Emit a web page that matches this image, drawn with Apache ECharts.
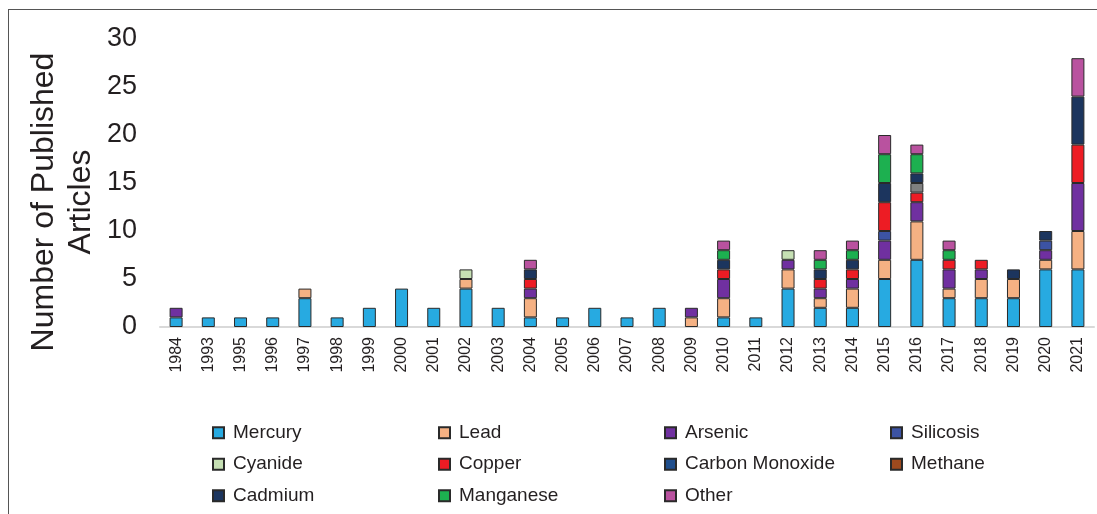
<!DOCTYPE html>
<html>
<head>
<meta charset="utf-8">
<script src="https://cdn.jsdelivr.net/npm/echarts@6/dist/echarts.min.js"></script>
<style>
html,body{margin:0;padding:0;background:#fff;}
#frame{position:absolute;left:8px;top:9px;width:1200px;height:600px;border-left:1.5px solid #555;border-top:1.5px solid #555;}
#chart{position:absolute;left:0;top:0;width:1097px;height:514px;}
</style>
</head>
<body>
<div id="frame"></div>
<div id="chart"></div>
<script>
const categories = ['1984','1993','1995','1996','1997','1998','1999','2000','2001','2002','2003','2004','2005','2006','2007','2008','2009','2010','2011','2012','2013','2014','2015','2016','2017','2018','2019','2020','2021'];
//                 84 93 95 96 97 98 99 00 01 02 03 04 05 06 07 08 09 10 11 12 13 14 15 16 17 18 19 20 21
const mercury   = [1, 1, 1, 1, 3, 1, 2, 4, 2, 4, 2, 1, 1, 2, 1, 2, 0, 1, 1, 4, 2, 2, 5, 7, 3, 3, 3, 6, 6];
const lead      = [0, 0, 0, 0, 1, 0, 0, 0, 0, 1, 0, 2, 0, 0, 0, 0, 1, 2, 0, 2, 1, 2, 2, 4, 1, 2, 2, 1, 4];
const arsenic   = [1, 0, 0, 0, 0, 0, 0, 0, 0, 0, 0, 1, 0, 0, 0, 0, 1, 2, 0, 1, 1, 1, 2, 2, 2, 1, 0, 1, 5];
const silicosis = [0, 0, 0, 0, 0, 0, 0, 0, 0, 0, 0, 0, 0, 0, 0, 0, 0, 0, 0, 0, 0, 0, 1, 0, 0, 0, 0, 1, 0];
const cyanide   = [0, 0, 0, 0, 0, 0, 0, 0, 0, 1, 0, 0, 0, 0, 0, 0, 0, 0, 0, 1, 0, 0, 0, 0, 0, 0, 0, 0, 0];
const copper    = [0, 0, 0, 0, 0, 0, 0, 0, 0, 0, 0, 1, 0, 0, 0, 0, 0, 1, 0, 0, 1, 1, 3, 1, 1, 1, 0, 0, 4];
const unlabeled = [0, 0, 0, 0, 0, 0, 0, 0, 0, 0, 0, 0, 0, 0, 0, 0, 0, 0, 0, 0, 0, 0, 0, 1, 0, 0, 0, 0, 0];
const carbonMonoxide = [0,0,0,0,0,0,0,0,0,0,0,0,0,0,0,0,0,0,0,0,0,0,0,0,0,0,0,0,0];
const methane   = [0, 0, 0, 0, 0, 0, 0, 0, 0, 0, 0, 0, 0, 0, 0, 0, 0, 0, 0, 0, 0, 0, 0, 0, 0, 0, 0, 0, 0];
const cadmium   = [0, 0, 0, 0, 0, 0, 0, 0, 0, 0, 0, 1, 0, 0, 0, 0, 0, 1, 0, 0, 1, 1, 2, 1, 0, 0, 1, 1, 5];
const manganese = [0, 0, 0, 0, 0, 0, 0, 0, 0, 0, 0, 0, 0, 0, 0, 0, 0, 1, 0, 0, 1, 1, 3, 2, 1, 0, 0, 0, 0];
const other     = [0, 0, 0, 0, 0, 0, 0, 0, 0, 0, 0, 1, 0, 0, 0, 0, 0, 1, 0, 0, 1, 1, 2, 1, 1, 0, 0, 0, 4];
const yTicks = [0, 5, 10, 15, 20, 25, 30];
const legendOrder = ['Mercury','Lead','Arsenic','Silicosis','Cyanide','Copper','Carbon Monoxide','Methane','Cadmium','Manganese','Other'];

const seriesDefs = [
  ['Mercury', mercury, '#27AAE1'],
  ['Lead', lead, '#F5B183'],
  ['Arsenic', arsenic, '#7030A0'],
  ['Silicosis', silicosis, '#3C53A4'],
  ['Cyanide', cyanide, '#C6E0B4'],
  ['Copper', copper, '#ED1C24'],
  ['Unlabeled', unlabeled, '#808080'],
  ['Carbon Monoxide', carbonMonoxide, '#1F4E8C'],
  ['Methane', methane, '#9E4A1E'],
  ['Cadmium', cadmium, '#1C355E'],
  ['Manganese', manganese, '#1DB050'],
  ['Other', other, '#B9529F']
];

const FONT = '"Liberation Sans", Arial, sans-serif';
const TXT = '#231f20';

const chart = echarts.init(document.getElementById('chart'), null, {renderer: 'canvas'});
chart.setOption({
  animation: false,
  grid: {left: 160, right: 3, top: 39, bottom: 187, containLabel: false},
  xAxis: {
    type: 'category',
    data: categories,
    axisLine: {lineStyle: {color: '#d9d9d9', width: 2}},
    axisTick: {show: false},
    axisLabel: {rotate: 90, fontSize: 16, color: TXT, fontFamily: FONT, margin: 10, interval: 0}
  },
  yAxis: {
    type: 'value',
    min: 0, max: 30, interval: 5,
    axisLine: {show: false},
    axisTick: {show: false},
    splitLine: {show: false},
    axisLabel: {fontSize: 27, color: TXT, fontFamily: FONT, margin: 23, padding: [4, 0, 0, 0],
      formatter: v => yTicks.includes(v) ? String(v) : ''}
  },
  legend: {
    data: legendOrder,
    left: 212, top: 417, width: 910, padding: 0,
    itemWidth: 11, itemHeight: 11, itemGap: 0,
    icon: 'rect',
    textStyle: {fontSize: 19, color: TXT, fontFamily: FONT, width: 205, lineHeight: 31.5, padding: [0,0,0,4]}
  },
  graphic: [{
    type: 'text',
    x: 63, y: 202,
    rotation: Math.PI / 2,
    style: {
      text: 'Number of Published\nArticles',
      fontSize: 32, fontFamily: FONT, fill: TXT,
      align: 'center', verticalAlign: 'middle', lineHeight: 37
    }
  }],
  series: seriesDefs.map(([name, arr, color]) => ({
    name: name,
    type: 'bar',
    stack: 'total',
    barWidth: 13,
    data: arr.map(v => v === 0 ? null : v),
    itemStyle: {color: color, borderColor: '#2a2a2a', borderWidth: 1}
  }))
});
</script>
</body>
</html>
